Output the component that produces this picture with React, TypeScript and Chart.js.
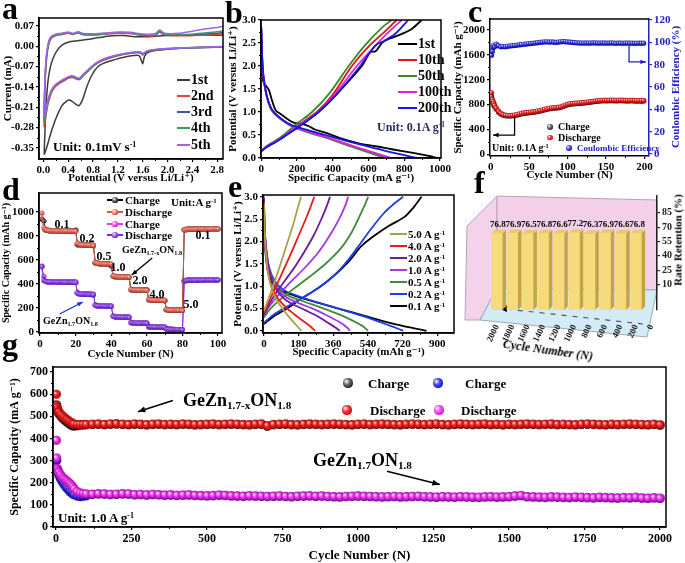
import React, { useEffect, useRef } from 'react';
import { Chart, registerables } from 'chart.js';

Chart.register(...registerables);

const SERIF = "'Liberation Serif', 'Times New Roman', 'DejaVu Serif', serif";
Chart.defaults.font.family = SERIF;
Chart.defaults.color = '#000';

/* ================= a: CV curves ================= */
const aPotentialTicks = [0, 0.4, 0.8, 1.2, 1.6, 2.0, 2.4, 2.8];
const aPotentialMinor = [0.2, 0.6, 1.0, 1.4, 1.8, 2.2, 2.6];
const aCurrentTicks = [-0.35, -0.28, -0.21, -0.14, -0.07, 0, 0.07];
const aCurrentMinor = [-0.315, -0.245, -0.175, -0.105, -0.035, 0.035];
const cvLabels = ['1st', '2nd', '3rd', '4th', '5th'];
const cvColors = ['#3c3c3c', '#e8403a', '#3b5a9a', '#3c9a5c', '#a462ea'];
const cv1st = [[2.95,0.0],[2.6,-0.003],[2.3,-0.006],[2.0,-0.01],[1.8,-0.015],[1.68,-0.022],[1.63,-0.035],[1.6,-0.06],[1.58,-0.05],[1.54,-0.032],[1.45,-0.032],[1.3,-0.038],[1.15,-0.046],[1.0,-0.056],[0.88,-0.07],[0.78,-0.1],[0.7,-0.14],[0.63,-0.185],[0.57,-0.205],[0.5,-0.196],[0.43,-0.186],[0.37,-0.19],[0.3,-0.205],[0.22,-0.24],[0.15,-0.28],[0.1,-0.315],[0.06,-0.345],[0.03,-0.365],[0.015,-0.372],
  [0.025,-0.3],[0.045,-0.2],[0.07,-0.13],[0.1,-0.085],[0.15,-0.045],[0.22,-0.015],[0.3,0.004],[0.4,0.014],[0.55,0.019],[0.7,0.023],[0.9,0.03],[1.1,0.036],[1.3,0.037],[1.5,0.033],[1.7,0.033],[1.9,0.036],[2.2,0.038],[2.5,0.038],[2.8,0.038],[2.95,0.039]];
const cv2nd = [[2.95,-0.002],[2.6,-0.004],[2.3,-0.006],[2.0,-0.009],[1.8,-0.013],[1.68,-0.018],[1.62,-0.026],[1.6,-0.03],[1.57,-0.024],[1.5,-0.022],[1.35,-0.026],[1.2,-0.033],[1.05,-0.042],[0.92,-0.053],[0.82,-0.066],[0.72,-0.086],[0.64,-0.102],[0.58,-0.115],[0.53,-0.113],[0.47,-0.108],[0.41,-0.11],[0.34,-0.118],[0.26,-0.128],[0.19,-0.14],[0.13,-0.16],[0.08,-0.195],[0.04,-0.24],[0.02,-0.268],[0.012,-0.278],
  [0.018,-0.2],[0.03,-0.12],[0.05,-0.05],[0.08,0.0],[0.12,0.025],[0.2,0.037],[0.3,0.041],[0.4,0.045],[0.48,0.041],[0.56,0.046],[0.64,0.04],[0.8,0.039],[1.0,0.042],[1.2,0.045],[1.4,0.044],[1.6,0.037],[1.8,0.037],[1.87,0.048],[1.95,0.039],[2.2,0.036],[2.5,0.038],[2.8,0.041],[2.95,0.044]];
const cv3rd = [[2.95,-0.002],[2.6,-0.004],[2.3,-0.006],[2.0,-0.009],[1.8,-0.012],[1.68,-0.017],[1.62,-0.025],[1.6,-0.028],[1.57,-0.022],[1.5,-0.021],[1.35,-0.025],[1.2,-0.031],[1.05,-0.04],[0.92,-0.051],[0.82,-0.064],[0.72,-0.084],[0.64,-0.1],[0.58,-0.113],[0.53,-0.11],[0.47,-0.105],[0.41,-0.107],[0.34,-0.115],[0.26,-0.125],[0.19,-0.137],[0.13,-0.155],[0.08,-0.185],[0.04,-0.225],[0.02,-0.245],[0.012,-0.252],
  [0.018,-0.18],[0.03,-0.1],[0.05,-0.035],[0.08,0.008],[0.12,0.03],[0.2,0.04],[0.3,0.043],[0.4,0.047],[0.48,0.043],[0.56,0.048],[0.64,0.042],[0.8,0.041],[1.0,0.044],[1.2,0.047],[1.4,0.046],[1.6,0.039],[1.8,0.039],[1.87,0.052],[1.95,0.041],[2.2,0.038],[2.5,0.041],[2.8,0.045],[2.95,0.049]];
const cv4th = [[2.95,-0.001],[2.6,-0.003],[2.3,-0.005],[2.0,-0.008],[1.8,-0.012],[1.68,-0.016],[1.62,-0.024],[1.6,-0.027],[1.57,-0.021],[1.5,-0.02],[1.35,-0.024],[1.2,-0.03],[1.05,-0.039],[0.92,-0.05],[0.82,-0.063],[0.72,-0.082],[0.64,-0.099],[0.58,-0.112],[0.53,-0.109],[0.47,-0.104],[0.41,-0.106],[0.34,-0.114],[0.26,-0.124],[0.19,-0.136],[0.13,-0.156],[0.08,-0.19],[0.04,-0.235],[0.02,-0.256],[0.012,-0.262],
  [0.018,-0.19],[0.03,-0.105],[0.05,-0.04],[0.08,0.005],[0.12,0.028],[0.2,0.039],[0.3,0.042],[0.4,0.046],[0.48,0.042],[0.56,0.047],[0.64,0.041],[0.8,0.04],[1.0,0.043],[1.2,0.046],[1.4,0.045],[1.6,0.04],[1.8,0.04],[1.87,0.053],[1.95,0.042],[2.2,0.04],[2.5,0.044],[2.8,0.05],[2.95,0.056]];
const cv5th = [[2.95,-0.001],[2.6,-0.003],[2.3,-0.005],[2.0,-0.008],[1.8,-0.011],[1.68,-0.015],[1.62,-0.023],[1.6,-0.026],[1.57,-0.02],[1.5,-0.019],[1.35,-0.023],[1.2,-0.029],[1.05,-0.038],[0.92,-0.049],[0.82,-0.062],[0.72,-0.081],[0.64,-0.097],[0.58,-0.11],[0.53,-0.107],[0.47,-0.102],[0.41,-0.104],[0.34,-0.112],[0.26,-0.122],[0.19,-0.133],[0.13,-0.15],[0.08,-0.18],[0.04,-0.22],[0.02,-0.237],[0.012,-0.243],
  [0.018,-0.17],[0.03,-0.09],[0.05,-0.03],[0.08,0.012],[0.12,0.033],[0.2,0.042],[0.3,0.045],[0.4,0.049],[0.48,0.045],[0.56,0.05],[0.64,0.044],[0.8,0.043],[1.0,0.046],[1.2,0.049],[1.4,0.048],[1.6,0.042],[1.8,0.043],[1.87,0.056],[1.95,0.045],[2.2,0.045],[2.4,0.052],[2.6,0.06],[2.8,0.065],[2.95,0.072]];

/* ================= b: GCD curves at 0.1 A/g ================= */
const bCapacityTicks = [0, 200, 400, 600, 800, 1000];
const bCapacityMinor = [100, 300, 500, 700, 900];
const bPotentialTicks = [0, 0.5, 1.0, 1.5, 2.0, 2.5, 3.0];
const bPotentialMinor = [0.25, 0.75, 1.25, 1.75, 2.25, 2.75];
const bLabels = ['1st', '10th', '50th', '100th', '200th'];
const bColors = ['#000000', '#e01414', '#3a8a2a', '#e020e0', '#1616e8'];
const b1stDis = [[0,1.85],[5,1.75],[15,1.62],[30,1.55],[43,1.47],[60,1.25],[80,1.04],[110,0.95],[173,0.78],[230,0.74],[266,0.69],[300,0.62],[359,0.55],[450,0.42],[545,0.32],[650,0.25],[730,0.19],[850,0.11],[930,0.05],[990,0.0]];
const b1stCh = [[0,0.15],[30,0.24],[80,0.35],[140,0.5],[210,0.68],[320,1.0],[420,1.38],[563,2.0],[610,2.3],[640,2.32],[680,2.52],[720,2.6],[770,2.67],[840,2.8],[898,3.0]];
const b10thDis = [[0,2.75],[4,2.2],[12,1.75],[30,1.35],[55,1.08],[90,0.92],[130,0.8],[173,0.7],[266,0.57],[359,0.46],[450,0.34],[545,0.21],[650,0.09],[722,0.0]];
const b10thCh = [[0,0.15],[30,0.25],[80,0.37],[135,0.5],[200,0.7],[310,1.0],[400,1.38],[507,2.0],[600,2.42],[700,2.78],[758,3.0]];
const b50thDis = [[0,2.8],[4,2.2],[12,1.75],[30,1.33],[55,1.05],[90,0.9],[130,0.78],[173,0.68],[266,0.55],[359,0.44],[450,0.32],[545,0.19],[640,0.07],[702,0.0]];
const b50thCh = [[0,0.15],[30,0.26],[80,0.38],[130,0.52],[200,0.75],[284,1.0],[380,1.4],[489,2.0],[580,2.45],[680,2.85],[730,3.0]];
const b100thDis = [[0,2.8],[4,2.22],[12,1.76],[30,1.34],[55,1.07],[90,0.91],[130,0.79],[173,0.7],[266,0.57],[359,0.46],[450,0.34],[545,0.22],[650,0.09],[725,0.0]];
const b100thCh = [[0,0.15],[30,0.25],[80,0.36],[135,0.5],[200,0.68],[315,1.0],[410,1.38],[535,2.0],[640,2.45],[730,2.8],[786,3.0]];
const b200thDis = [[0,2.85],[4,2.25],[12,1.78],[30,1.36],[55,1.08],[90,0.92],[130,0.8],[173,0.71],[266,0.6],[359,0.5],[450,0.4],[545,0.3],[650,0.2],[730,0.12],[800,0.06],[868,0.0]];
const b200thCh = [[0,0.15],[30,0.24],[80,0.35],[140,0.5],[210,0.68],[320,1.0],[420,1.38],[554,2.0],[640,2.45],[690,2.55],[750,2.7],[823,3.0]];

/* ================= c: cycling at 0.1 A/g ================= */
const cCycleTicks = [0, 50, 100, 150, 200];
const cCycleMinor = [25, 75, 125, 175];
const cCapacityTicks = [0, 400, 800, 1200, 1600, 2000];
const cCapacityMinor = [200, 600, 1000, 1400, 1800];
const cEfficiencyTicks = [0, 20, 40, 60, 80, 100, 120];
const cCycles = [1,2,3,4,5,7,10,13,16,19,22,25,28,31,34,37,40,43,46,49,52,55,58,61,64,67,70,73,76,79,82,85,88,91,94,97,100,103,106,109,112,115,118,121,124,127,130,133,136,139,142,145,148,151,154,157,160,163,166,169,172,175,178,181,184,187,190,193,196,199];
const cDischarge = [990,885,850,815,785,
  745,695,662,642,630,625,624,627,632,640,
  650,660,667,672,675,680,684,690,697,705,
  714,724,734,741,747,751,754,757,764,778,
  793,806,814,818,822,825,828,831,834,838,
  843,848,853,858,863,866,869,870,868,870,
  872,870,868,870,872,870,868,866,868,870,
  866,864,866,864,866];
const cCharge = [930,850,822,795,770,
  728,680,650,632,622,618,617,620,625,632,
  642,652,659,664,667,672,676,682,689,697,
  706,716,726,733,739,743,746,749,756,770,
  785,798,806,810,814,817,820,823,826,830,
  835,840,845,850,855,858,861,862,860,862,
  864,862,860,862,864,862,860,858,860,862,
  858,856,858,856,858];
const cEfficiency = [88.5,92,95.5,97.5,96,
  98.5,97,96,96.3,96,96.5,96.8,97,97.2,97.5,
  97.8,98,98.3,98.5,98.8,99,99.2,99.5,99.7,100,
  100.2,100.4,100.5,100.3,100.4,100.2,100,100.3,100.5,100.8,
  100.6,100.4,100.2,100,99.8,99.6,99.5,99.4,99.4,99.5,
  99.3,99.4,99.6,99.5,99.4,99.3,99.5,99.4,99.3,99.4,
  99.5,99.3,99.2,99.4,99.3,99.2,99.3,99.4,99.2,99.3,
  99.1,99.2,99.3,99.2,99.3];

/* ================= d: rate performance ================= */
const dCycleTicks = [0, 20, 40, 60, 80, 100];
const dCycleMinor = [10, 30, 50, 70, 90];
const dCapacityTicks = [0, 200, 400, 600, 800, 1000];
const dCapacityMinor = [100, 300, 500, 700, 900];
const dCycles = [1,2,3,4,5,6,7,8,9,10,11,12,13,14,15,16,17,18,19,20,21,22,23,24,25,26,27,28,29,30,31,32,33,34,35,36,37,38,39,40,41,42,43,44,45,46,47,48,49,50,51,52,53,54,55,56,57,58,59,60,61,62,63,64,65,66,67,68,69,70,71,72,73,74,75,76,77,78,79,80,81,82,83,84,85,86,87,88,89,90,91,92,93,94,95,96,97,98,99,100];
const dRateLabels = ['0.1', '0.2', '0.5', '1.0', '2.0', '4.0', '5.0', '0.1'];
const dChargeA = [940,925,850,846,845,844,843,843,842,842,841,841,841,840,840,840,839,839,839,850,
  728,727,725,724,724,723,723,722,722,720,
  575,571,570,569,568,567,567,566,566,550,
  465,462,461,460,459,459,458,458,457,455,
  352,350,349,349,348,348,347,347,347,352,
  269,266,265,265,264,264,263,263,263,262,
  185,183,182,181,181,181,180,180,180,180,
  852,854,855,855,856,856,856,857,857,857,857,858,858,858,858,859,859,859,859,859];
const dDischargeA = [990,872,852,848,846,845,844,844,843,843,842,842,842,841,841,841,840,840,840,840,
  738,730,727,726,725,724,724,723,723,722,
  580,573,571,570,569,568,568,567,567,566,
  468,464,462,461,460,460,459,459,458,458,
  355,352,351,350,350,349,349,348,348,348,
  272,268,267,266,266,265,265,264,264,264,
  188,184,183,183,182,182,182,181,181,181,
  850,855,856,856,857,857,857,858,858,858,858,859,859,859,859,860,860,860,860,860];
const dChargeB = [550,465,425,420,418,418,417,417,416,416,416,415,415,415,415,414,414,414,414,414,
  330,318,316,315,315,314,314,314,313,313,
  228,220,218,218,217,217,216,216,216,215,
  135,128,126,125,125,124,124,124,123,123,
  80,76,75,74,74,74,73,73,73,73,
  46,43,42,42,41,41,41,41,40,40,
  25,23,22,22,22,21,21,21,21,21,
  428,430,431,431,432,432,432,432,433,433,433,433,433,434,434,434,434,434,434,434];
const dDischargeB = [545,430,422,419,418,417,417,416,416,416,415,415,415,414,414,414,414,413,413,413,
  322,316,315,314,314,313,313,313,312,312,
  222,218,217,217,216,216,215,215,215,215,
  130,126,125,124,124,123,123,123,122,122,
  78,75,74,74,73,73,73,72,72,72,
  44,42,41,41,41,40,40,40,40,40,
  24,22,22,21,21,21,21,20,20,20,
  425,429,430,430,431,431,431,432,432,432,432,433,433,433,433,433,433,433,434,434];

/* ================= e: GCD at different rates ================= */
const eCapacityTicks = [0, 180, 360, 540, 720, 900];
const eCapacityMinor = [90, 270, 450, 630, 810];
const ePotentialTicks = [0, 0.5, 1.0, 1.5, 2.0, 2.5, 3.0];
const ePotentialMinor = [0.25, 0.75, 1.25, 1.75, 2.25, 2.75];
const eRates = ['5.0', '4.0', '2.0', '1.0', '0.5', '0.2', '0.1'];
const eColors = ['#aaa046', '#e61c1c', '#6a1c9c', '#a236ea', '#3d8b35', '#1d3de6', '#000000'];
const e50Dis = [[0,2.85],[3,2.3],[8,1.85],[18,1.4],[30,1.1],[45,0.88],[65,0.7],[90,0.53],[120,0.36],[150,0.21],[175,0.09],[195,0.0]];
const e50Ch = [[0,0.45],[15,0.62],[35,0.85],[60,1.15],[90,1.55],[120,1.95],[150,2.35],[172,2.7],[192,3.0]];
const e40Dis = [[0,2.9],[3,2.3],[8,1.85],[20,1.35],[35,1.05],[55,0.85],[80,0.68],[120,0.5],[160,0.36],[200,0.23],[240,0.1],[265,0.0]];
const e40Ch = [[0,0.4],[20,0.6],[50,0.88],[90,1.25],[130,1.63],[170,2.03],[210,2.43],[240,2.75],[261,3.0]];
const e20Dis = [[0,2.95],[3,2.35],[10,1.85],[25,1.38],[45,1.08],[70,0.88],[110,0.7],[160,0.57],[220,0.45],[280,0.32],[340,0.16],[375,0.06],[394,0.0]];
const e20Ch = [[0,0.35],[25,0.58],[60,0.83],[110,1.13],[160,1.43],[210,1.77],[260,2.15],[300,2.52],[325,2.78],[343,3.0]];
const e10Dis = [[0,3.0],[3,2.4],[10,1.9],[25,1.42],[45,1.12],[75,0.9],[120,0.74],[180,0.62],[250,0.5],[320,0.36],[390,0.2],[430,0.08],[446,0.0]];
const e10Ch = [[0,0.35],[30,0.56],[80,0.82],[140,1.1],[210,1.4],[280,1.74],[340,2.12],[390,2.5],[420,2.78],[438,3.0]];
const e05Dis = [[0,2.9],[3,2.35],[10,1.88],[25,1.42],[50,1.1],[85,0.9],[140,0.76],[210,0.65],[290,0.53],[370,0.4],[450,0.25],[510,0.11],[541,0.0]];
const e05Ch = [[0,0.3],[35,0.5],[90,0.72],[160,0.96],[240,1.22],[320,1.5],[400,1.85],[455,2.2],[495,2.55],[522,2.8],[541,3.0]];
const e02Dis = [[0,3.0],[3,2.4],[10,1.9],[25,1.45],[55,1.12],[100,0.92],[170,0.79],[260,0.66],[360,0.53],[460,0.4],[560,0.26],[650,0.12],[700,0.04],[723,0.0]];
const e02Ch = [[0,0.18],[50,0.36],[120,0.54],[200,0.74],[290,0.98],[370,1.26],[440,1.6],[500,1.95],[560,2.3],[620,2.62],[680,2.86],[723,3.0]];
const e01Dis = [[0,2.6],[3,2.1],[10,1.65],[25,1.25],[55,1.0],[100,0.88],[170,0.77],[260,0.65],[360,0.53],[460,0.41],[560,0.29],[660,0.17],[750,0.08],[810,0.03],[844,0.0]];
const e01Ch = [[0,0.15],[50,0.32],[120,0.5],[195,0.72],[280,0.95],[360,1.22],[440,1.55],[507,1.9],[580,2.15],[650,2.35],[730,2.55],[775,2.75],[818,3.0]];

/* ================= f: rate retention (3D bars) ================= */
const fCycles = [2000, 1800, 1600, 1400, 1200, 1000, 800, 600, 400, 200];
const fRetention = [76.8, 76.9, 76.5, 76.8, 76.6, 77.2, 76.3, 76.9, 76.6, 76.8];
const fCycleTicks = [2000, 1800, 1600, 1400, 1200, 1000, 800, 600, 400, 200, 0];
const fRetentionTicks = [10, 25, 40, 55, 70, 85];

/* ================= g: long cycling at 1.0 A/g ================= */
const gCycleTicks = [0, 250, 500, 750, 1000, 1250, 1500, 1750, 2000];
const gCycleMinor = [125, 375, 625, 875, 1125, 1375, 1625, 1875];
const gCapacityTicks = [0, 100, 200, 300, 400, 500, 600, 700];
const gCapacityMinor = [50, 150, 250, 350, 450, 550, 650];
const gCycles = [1,2,3,5,8,10,15,20,25,30,35,40,45,50,55,60,70,80,90,100,
  120,140,160,180,200,220,240,260,280,300,320,340,360,380,400,420,440,460,480,500,
  520,540,560,580,600,620,640,660,680,700,720,740,760,780,800,820,840,860,880,900,
  920,940,960,980,1000,1020,1040,1060,1080,1100,1120,1140,1160,1180,1200,1220,1240,1260,1280,1300,
  1320,1340,1360,1380,1400,1420,1440,1460,1480,1500,1520,1540,1560,1580,1600,1620,1640,1660,1680,1700,
  1720,1740,1760,1780,1800,1820,1840,1860,1880,1900,1920,1940,1960,1980,2000];
const gDischargeA = [600,548,540,530,522,518,510,503,497,491,486,481,476,471,468,465,463,463,464,464,
  465,466,464,466,467,465,464,466,465,463,
  465,466,464,465,464,466,465,463,464,465,
  466,464,465,466,465,464,463,465,466,458,
  464,465,466,464,463,465,466,465,464,465,
  466,465,464,463,465,466,464,465,466,465,
  464,463,465,466,465,464,465,466,464,463,
  465,466,465,464,465,466,464,465,463,465,
  464,465,466,465,464,465,466,464,465,464,
  463,465,466,465,464,463,465,464,465,466,
  465,464,463,465,462];
const gChargeA = [552,540,534,525,516,512,503,495,488,482,476,471,466,461,458,456,458,460,461,462,
  463,464,462,464,465,463,462,464,463,461,
  463,464,462,463,462,464,463,461,462,463,
  464,462,463,464,463,462,461,463,464,455,
  462,463,464,462,461,463,464,463,462,463,
  464,463,462,461,463,464,462,463,464,463,
  462,461,463,464,463,462,463,464,462,461,
  463,464,463,462,463,464,462,463,461,463,
  462,463,464,463,462,463,464,462,463,462,
  461,463,464,463,462,461,463,462,463,464,
  463,462,461,463,460];
const gDischargeB = [392,312,265,258,250,245,235,226,220,214,208,203,197,190,182,172,160,154,151,150,
  149,151,150,148,149,151,150,147,148,146,
  148,147,145,146,144,145,146,144,143,142,
  143,145,144,142,141,140,142,141,140,139,
  140,141,139,138,140,141,142,140,141,139,
  138,137,139,140,141,140,139,138,137,138,
  139,137,138,139,140,138,137,136,138,137,
  136,138,137,136,135,137,138,136,137,138,
  141,143,138,137,136,135,137,136,135,134,
  136,135,134,133,135,134,133,132,134,133,
  135,132,131,133,131];
const gChargeB = [305,300,262,252,242,232,218,206,196,186,178,170,162,156,150,146,140,137,139,141,
  147,149,148,146,147,149,148,145,146,144,
  146,145,143,144,142,143,144,142,141,140,
  141,143,142,140,139,138,140,139,138,137,
  138,139,137,136,138,139,140,138,139,137,
  136,135,137,138,139,138,137,136,135,136,
  137,135,136,137,138,136,135,134,136,135,
  134,136,135,134,133,135,136,134,135,136,
  139,141,136,135,134,133,135,134,133,132,
  134,133,132,131,133,132,131,130,132,131,
  133,130,129,131,129];

/* ================= helpers ================= */
function geom(L: number, T: number, R: number, B: number, o: any) {
  const l = o.l || 0, r = o.r || 0, t = o.t || 0, b = o.b || 0, ryw = o.ryw || 0;
  return {
    x: L - o.yw - l, y: T - t,
    w: (R - L) + o.yw + l + ryw + r, h: (B - T) + t + o.xh + b,
    padding: { left: l, top: t, right: r, bottom: b },
    yw: o.yw, xh: o.xh, ryw,
  };
}

const GA = geom(39, 18, 223, 159, { yw: 37, xh: 26, t: 10, r: 8 });
const GB = geom(261, 20, 441, 158, { yw: 34, xh: 27, t: 12, r: 14 });
const GC = geom(490, 19, 649, 156, { yw: 38, xh: 26, t: 12, r: 14, ryw: 22 });
const GD = geom(39, 193, 222, 333, { yw: 39, xh: 28, t: 10, r: 8 });
const GE = geom(263, 195, 454, 333, { yw: 31, xh: 26, t: 10, r: 4 });
const GF = geom(490, 195, 657, 310, { yw: 0, xh: 53, t: 7, r: 8, ryw: 20, l: 35 });
const GG = geom(53, 367, 666, 527, { yw: 45, xh: 36, t: 10, r: 10 });

function axis(o: any) {
  const col = o.color || '#000';
  return {
    type: 'linear',
    position: o.position,
    min: o.min, max: o.max, bounds: 'data', reverse: !!o.reverse,
    afterBuildTicks: (s: any) => { s.ticks = o.ticks.map((v: number) => ({ value: v })); },
    afterFit: (s: any) => {
      if (o.w !== undefined) s.width = o.w;
      if (o.h !== undefined) s.height = o.h;
    },
    ticks: {
      autoSkip: false, maxRotation: 0, minRotation: 0, padding: o.pad === undefined ? 2 : o.pad,
      color: col, font: { family: SERIF, size: o.size || 11, weight: 'bold' },
      callback: (v: any) => o.fmt(Number(v)),
    },
    grid: { display: true, drawOnChartArea: false, drawTicks: true, tickLength: 3, color: col, lineWidth: 1.2 },
    border: { display: true, color: col, width: 1.5 },
    title: o.title
      ? { display: true, text: o.title, color: col, padding: 0, font: { family: SERIF, size: o.tsize || 11, weight: 'bold' } }
      : { display: false },
  };
}

function baseOptions(g: any, scales: any, plugins: any) {
  return {
    responsive: false, animation: false, events: [],
    layout: { padding: g.padding },
    scales,
    plugins: { legend: { display: false }, tooltip: { enabled: false }, ...plugins },
  };
}

const toXY = (pts: number[][]) => pts.map((p) => ({ x: p[0], y: p[1] }));
const zipXY = (xs: number[], ys: number[]) => xs.map((x, i) => ({ x, y: ys[i] }));

function lineSet(pts: number[][], color: string, width: number) {
  return { data: toXY(pts), showLine: true, borderColor: color, borderWidth: width, pointRadius: 0, tension: 0.3, fill: false };
}

function ball(color: string, dark: string, r: number) {
  const s = Math.ceil(2 * r + 1);
  const c = document.createElement('canvas');
  c.width = s; c.height = s;
  const g = c.getContext('2d') as CanvasRenderingContext2D;
  const cx = s / 2, cy = s / 2;
  const gr = g.createRadialGradient(cx - r * 0.35, cy - r * 0.35, r * 0.05, cx, cy, r);
  gr.addColorStop(0, '#ffffff');
  gr.addColorStop(0.35, color);
  gr.addColorStop(1, dark);
  g.fillStyle = gr;
  g.beginPath(); g.arc(cx, cy, r, 0, Math.PI * 2); g.fill();
  return c;
}

const framePlugin = {
  id: 'frame',
  afterDatasetsDraw(chart: any, _a: any, opts: any) {
    if (!opts || !opts.sides) return;
    const { ctx, chartArea: a } = chart;
    ctx.save();
    ctx.strokeStyle = opts.color || '#000';
    ctx.lineWidth = opts.width || 1.5;
    ctx.beginPath();
    if (opts.sides === 'all') ctx.rect(a.left, a.top, a.right - a.left, a.bottom - a.top);
    else { ctx.moveTo(a.left, a.top); ctx.lineTo(a.right, a.top); }
    ctx.stroke();
    ctx.restore();
  },
};

const minorPlugin = {
  id: 'minor',
  afterDatasetsDraw(chart: any, _a: any, opts: any) {
    const { ctx, chartArea: a } = chart;
    ctx.save();
    ctx.strokeStyle = '#000'; ctx.lineWidth = 1;
    ((opts && opts.x) || []).forEach((v: number) => {
      const px = Math.round(chart.scales.x.getPixelForValue(v)) + 0.5;
      ctx.beginPath(); ctx.moveTo(px, a.bottom); ctx.lineTo(px, a.bottom + 2); ctx.stroke();
    });
    ((opts && opts.y) || []).forEach((v: number) => {
      const py = Math.round(chart.scales.y.getPixelForValue(v)) + 0.5;
      ctx.beginPath(); ctx.moveTo(a.left - 2, py); ctx.lineTo(a.left, py); ctx.stroke();
    });
    ctx.restore();
  },
};

const arrowPlugin = {
  id: 'arrows',
  afterDatasetsDraw(chart: any, _a: any, opts: any) {
    const items = (opts && opts.items) || [];
    const ctx = chart.ctx;
    items.forEach((it: any) => {
      const xs = chart.scales[it.xAxis || 'x'];
      const ys = chart.scales[it.yAxis || 'y'];
      const pts = it.pts.map((p: number[]) => [xs.getPixelForValue(p[0]), ys.getPixelForValue(p[1])]);
      ctx.save();
      ctx.strokeStyle = it.color; ctx.fillStyle = it.color; ctx.lineWidth = it.width || 1.5;
      ctx.beginPath();
      pts.forEach((p: number[], i: number) => (i ? ctx.lineTo(p[0], p[1]) : ctx.moveTo(p[0], p[1])));
      ctx.stroke();
      const [x1, y1] = pts[pts.length - 2];
      const [x2, y2] = pts[pts.length - 1];
      const ang = Math.atan2(y2 - y1, x2 - x1);
      const h = it.head || 7;
      ctx.beginPath();
      ctx.moveTo(x2, y2);
      ctx.lineTo(x2 - h * Math.cos(ang - 0.38), y2 - h * Math.sin(ang - 0.38));
      ctx.lineTo(x2 - h * Math.cos(ang + 0.38), y2 - h * Math.sin(ang + 0.38));
      ctx.closePath(); ctx.fill();
      ctx.restore();
    });
  },
};

const roomPlugin = {
  id: 'room',
  beforeDraw(chart: any) {
    const { ctx, chartArea: a } = chart;
    const L = a.left, T = a.top, R = a.right, B = a.bottom;
    const poly = (pts: number[][], fill: string, stroke: string) => {
      ctx.beginPath();
      pts.forEach((p, i) => (i ? ctx.lineTo(p[0], p[1]) : ctx.moveTo(p[0], p[1])));
      ctx.closePath();
      ctx.fillStyle = fill; ctx.fill();
      ctx.strokeStyle = stroke; ctx.lineWidth = 1; ctx.stroke();
    };
    ctx.save();
    poly([[L + 7, T], [L - 23, T + 30], [L - 25, B + 10], [L - 10, B + 10], [L + 7, B - 22]], '#f4d2ea', '#b9a3b3');
    poly([[L + 7, T], [R, T + 4], [R, B - 20], [L + 7, B - 22]], '#f4d0e8', '#b9a3b3');
    poly([[L + 7, B - 22], [R, B - 20], [R - 10, B + 27], [L - 10, B + 10]], '#d4ecf7', '#9aaab4');
    ctx.setLineDash([5, 6]);
    ctx.strokeStyle = '#555'; ctx.lineWidth = 1.2;
    ctx.beginPath(); ctx.moveTo(R - 14, B + 14); ctx.lineTo(L + 16, B - 1); ctx.stroke();
    ctx.setLineDash([]);
    ctx.fillStyle = '#000';
    ctx.beginPath(); ctx.moveTo(L + 9, B - 1.5); ctx.lineTo(L + 17, B - 5); ctx.lineTo(L + 17, B + 2); ctx.closePath(); ctx.fill();
    ctx.restore();
  },
  afterDatasetsDraw(chart: any) {
    const { ctx } = chart;
    const meta = chart.getDatasetMeta(0);
    const vals = chart.data.datasets[0].data;
    ctx.save();
    meta.data.forEach((el: any, i: number) => {
      const { x, y, base, width } = el.getProps(['x', 'y', 'base', 'width'], true);
      const d = 3.5, hw = width / 2;
      ctx.fillStyle = '#c3a449';
      ctx.beginPath(); ctx.moveTo(x + hw, y); ctx.lineTo(x + hw + d, y - d); ctx.lineTo(x + hw + d, base - d); ctx.lineTo(x + hw, base); ctx.closePath(); ctx.fill();
      ctx.fillStyle = '#e6cb6b';
      ctx.beginPath(); ctx.moveTo(x - hw, y); ctx.lineTo(x - hw + d, y - d); ctx.lineTo(x + hw + d, y - d); ctx.lineTo(x + hw, y); ctx.closePath(); ctx.fill();
      ctx.fillStyle = '#000';
      ctx.font = `bold 9px ${SERIF}`;
      ctx.textAlign = 'center'; ctx.textBaseline = 'alphabetic';
      ctx.fillText(Number(vals[i].y).toFixed(1), x + 1, y - d - 3);
    });
    ctx.restore();
  },
};

/* ================= chart configs ================= */
const makeA = () => ({
  type: 'scatter',
  data: {
    datasets: [
      lineSet(cv5th, cvColors[4], 1.5), lineSet(cv4th, cvColors[3], 1.5), lineSet(cv3rd, cvColors[2], 1.5),
      lineSet(cv2nd, cvColors[1], 1.5), lineSet(cv1st, cvColors[0], 1.5),
    ],
  },
  options: baseOptions(GA, {
    x: axis({ min: -0.07, max: 2.893, ticks: aPotentialTicks, fmt: (v: number) => v.toFixed(1), title: 'Potential (V versus Li/Li\u207A)', h: GA.xh }),
    y: axis({ min: -0.389, max: 0.0976, ticks: aCurrentTicks, fmt: (v: number) => v.toFixed(2), title: 'Current (mA)', w: GA.yw }),
  }, { frame: { sides: 'all' }, minor: { x: aPotentialMinor, y: aCurrentMinor } }),
  plugins: [framePlugin, minorPlugin],
});

const makeB = () => ({
  type: 'scatter',
  data: {
    datasets: [
      lineSet(b200thDis, bColors[4], 1.8), lineSet(b200thCh, bColors[4], 1.8),
      lineSet(b100thDis, bColors[3], 1.8), lineSet(b100thCh, bColors[3], 1.8),
      lineSet(b50thDis, bColors[2], 1.8), lineSet(b50thCh, bColors[2], 1.8),
      lineSet(b10thDis, bColors[1], 1.8), lineSet(b10thCh, bColors[1], 1.8),
      lineSet(b1stDis, bColors[0], 1.8), lineSet(b1stCh, bColors[0], 1.8),
    ],
  },
  options: baseOptions(GB, {
    x: axis({ min: -2, max: 1006, ticks: bCapacityTicks, fmt: (v: number) => String(v), title: 'Specific Capacity (mA g\u207B\u00B9)', h: GB.xh }),
    y: axis({ min: 0, max: 3, ticks: bPotentialTicks, fmt: (v: number) => v.toFixed(1), title: 'Potential (V versus Li/Li\u207A)', w: GB.yw }),
  }, { frame: { sides: 'all' }, minor: { x: bCapacityMinor, y: bPotentialMinor } }),
  plugins: [framePlugin, minorPlugin],
});

const makeC = () => {
  const bk = ball('#6a6a6a', '#000000', 2.6);
  const rd = ball('#ff3030', '#a00000', 2.6);
  const bl = ball('#4848ff', '#00008c', 2.6);
  return {
    type: 'scatter',
    data: {
      datasets: [
        { data: zipXY(cCycles, cEfficiency), yAxisID: 'y1', pointStyle: bl, pointRadius: 2.6 },
        { data: zipXY(cCycles, cDischarge), yAxisID: 'y', pointStyle: rd, pointRadius: 2.6 },
        { data: zipXY(cCycles, cCharge), yAxisID: 'y', pointStyle: bk, pointRadius: 2.6 },
      ],
    },
    options: baseOptions(GC, {
      x: axis({ min: -1, max: 206, ticks: cCycleTicks, fmt: (v: number) => String(v), title: 'Cycle Number (N)', h: GC.xh }),
      y: axis({ min: -27, max: 2177, ticks: cCapacityTicks, fmt: (v: number) => String(v), title: 'Specific Capacity (mAh g\u207B\u00B9)', w: GC.yw }),
      y1: axis({ position: 'right', min: -1.8, max: 120.9, ticks: cEfficiencyTicks, fmt: (v: number) => String(v), w: GC.ryw, color: '#2020c4' }),
    }, {
      frame: { sides: 'top' },
      minor: { x: cCycleMinor, y: cCapacityMinor },
      arrows: {
        items: [
          { pts: [[31, 600], [31, 310], [3, 310]], color: '#000', width: 1.3, head: 6 },
          { pts: [[180, 97], [180, 82.5], [202, 82.5]], yAxis: 'y1', color: '#2020c4', width: 1.3, head: 6 },
        ],
      },
    }),
    plugins: [framePlugin, minorPlugin, arrowPlugin],
  };
};

const makeD = () => {
  const bk = ball('#6a6a6a', '#000000', 2.5);
  const sa = ball('#f58a7a', '#b83020', 2.5);
  const mg = ball('#ff60ff', '#a000a0', 2.5);
  const pu = ball('#a060ff', '#4a10a0', 2.5);
  const ds = (ys: number[], color: string, img: any) => ({
    data: zipXY(dCycles, ys), showLine: true, borderColor: color, borderWidth: 1, pointStyle: img, pointRadius: 2.5, tension: 0,
  });
  return {
    type: 'scatter',
    data: {
      datasets: [
        ds(dDischargeA, '#d85a48', sa), ds(dChargeA, '#000000', bk),
        ds(dDischargeB, '#7a30d8', pu), ds(dChargeB, '#e040e0', mg),
      ],
    },
    options: baseOptions(GD, {
      x: axis({ min: -0.6, max: 102.2, ticks: dCycleTicks, fmt: (v: number) => String(v), title: 'Cycle Number (N)', h: GD.xh }),
      y: axis({ min: -8, max: 1158, ticks: dCapacityTicks, fmt: (v: number) => String(v), title: 'Specific Capacity (mAh g\u207B\u00B9)', w: GD.yw, tsize: 10 }),
    }, {
      frame: { sides: 'all' },
      minor: { x: dCycleMinor, y: dCapacityMinor },
      arrows: {
        items: [
          { pts: [[63, 617], [51.5, 475]], color: '#000', width: 1.3, head: 6 },
          { pts: [[11, 150], [24, 250]], color: '#1a2fd0', width: 1.3, head: 6 },
        ],
      },
    }),
    plugins: [framePlugin, minorPlugin, arrowPlugin],
  };
};

const makeE = () => {
  const pairs = [[e50Dis, e50Ch], [e40Dis, e40Ch], [e20Dis, e20Ch], [e10Dis, e10Ch], [e05Dis, e05Ch], [e02Dis, e02Ch], [e01Dis, e01Ch]];
  const datasets: any[] = [];
  pairs.forEach((p, i) => { datasets.push(lineSet(p[0], eColors[i], 1.8)); datasets.push(lineSet(p[1], eColors[i], 1.8)); });
  return {
    type: 'scatter',
    data: { datasets },
    options: baseOptions(GE, {
      x: axis({ min: -5, max: 987, ticks: eCapacityTicks, fmt: (v: number) => String(v), title: 'Specific Capacity (mAh g\u207B\u00B9)', h: GE.xh }),
      y: axis({ min: -0.05, max: 3.04, ticks: ePotentialTicks, fmt: (v: number) => v.toFixed(1), title: 'Potential (V versus Li/Li\u207A)', w: GE.yw }),
    }, { frame: { sides: 'all' }, minor: { x: eCapacityMinor, y: ePotentialMinor } }),
    plugins: [framePlugin, minorPlugin],
  };
};

const makeF = () => ({
  type: 'bar',
  data: {
    datasets: [{
      data: zipXY(fCycles, fRetention), backgroundColor: '#f6db7c', borderWidth: 0, barThickness: 11, xAxisID: 'x', yAxisID: 'y',
    }],
  },
  options: baseOptions(GF, {
    x: {
      type: 'linear', min: -70, max: 2090, reverse: true, offset: false, bounds: 'data',
      afterBuildTicks: (s: any) => { s.ticks = fCycleTicks.map((v) => ({ value: v })); },
      afterFit: (s: any) => { s.height = GF.xh; },
      ticks: { autoSkip: false, minRotation: 65, maxRotation: 65, padding: 5, color: '#222', font: { family: SERIF, size: 9, weight: 'bold' }, callback: (v: any) => String(v) },
      grid: { display: false }, border: { display: false },
    },
    y: { type: 'linear', display: false, min: 0, max: 114 },
    y2: axis({ position: 'right', min: -16.6, max: 102.6, ticks: fRetentionTicks, fmt: (v: number) => String(v), w: GF.ryw, size: 10, color: '#222' }),
  }, {}),
  plugins: [roomPlugin],
});

const makeG = () => {
  const bk = ball('#6a6a6a', '#000000', 4.6);
  const rd = ball('#ff3030', '#a00000', 4.6);
  const bl = ball('#4848ff', '#00008c', 4.6);
  const mg = ball('#ff50ff', '#a000a0', 4.6);
  return {
    type: 'scatter',
    data: {
      datasets: [
        { data: zipXY(gCycles, gDischargeA), pointStyle: rd, pointRadius: 4.6 },
        { data: zipXY(gCycles, gChargeA), pointStyle: bk, pointRadius: 4.6 },
        { data: zipXY(gCycles, gDischargeB), pointStyle: mg, pointRadius: 4.6 },
        { data: zipXY(gCycles, gChargeB), pointStyle: bl, pointRadius: 4.6 },
      ],
    },
    options: baseOptions(GG, {
      x: axis({ min: -10, max: 2020, ticks: gCycleTicks, fmt: (v: number) => String(v), title: 'Cycle Number (N)', h: GG.xh, size: 12, tsize: 13 }),
      y: axis({ min: 0, max: 723, ticks: gCapacityTicks, fmt: (v: number) => String(v), title: 'Specific Capacity (mA g\u207B\u00B9)', w: GG.yw, size: 12, tsize: 12 }),
    }, {
      frame: { sides: 'all' },
      minor: { x: gCycleMinor, y: gCapacityMinor },
      arrows: {
        items: [
          { pts: [[387, 572], [271, 521]], color: '#000', width: 1.5, head: 8 },
          { pts: [[1096, 252], [1271, 192]], color: '#000', width: 1.5, head: 8 },
        ],
      },
    }),
    plugins: [framePlugin, minorPlugin, arrowPlugin],
  };
};

/* ================= React components ================= */
function ChartCanvas({ g, make }: any) {
  const ref = useRef<HTMLCanvasElement>(null);
  useEffect(() => {
    const chart = new Chart(ref.current as HTMLCanvasElement, make());
    return () => chart.destroy();
  }, []);
  return (
    <canvas ref={ref} width={g.w} height={g.h}
      style={{ position: 'absolute', left: g.x, top: g.y, width: g.w, height: g.h }} />
  );
}

const Sup = ({ children }: any) => <span style={{ fontSize: '0.62em', verticalAlign: '0.5em', lineHeight: 0 }}>{children}</span>;
const Sub = ({ children }: any) => <span style={{ fontSize: '0.62em', verticalAlign: '-0.3em', lineHeight: 0 }}>{children}</span>;

function Txt({ x, y, size, color = '#000', children, align = 'left', italic = false }: any) {
  return (
    <div style={{
      position: 'absolute', left: x, top: y - size / 2, fontSize: size, lineHeight: `${size}px`,
      fontWeight: 'bold', fontStyle: italic ? 'italic' : 'normal', color, whiteSpace: 'nowrap', fontFamily: SERIF,
      transform: align === 'center' ? 'translateX(-50%)' : undefined,
    }}>{children}</div>
  );
}

function RotTxt({ x, y, size, color = '#000', angle, italic = false, children }: any) {
  return (
    <div style={{
      position: 'absolute', left: x, top: y, fontSize: size, lineHeight: `${size}px`, fontWeight: 'bold',
      fontStyle: italic ? 'italic' : 'normal', color, whiteSpace: 'nowrap', fontFamily: SERIF,
      transform: `translate(-50%, -50%) rotate(${angle}deg)`,
    }}>{children}</div>
  );
}

function Letter({ x, base, ch }: any) {
  return (
    <div style={{ position: 'absolute', left: x, top: base - 27, fontSize: 32, lineHeight: '32px', fontWeight: 'bold', fontFamily: SERIF, color: '#000' }}>{ch}</div>
  );
}

function LineKey({ x1, x2, y, color, lw = 2.5 }: any) {
  return <div style={{ position: 'absolute', left: x1, top: y - lw / 2, width: x2 - x1, height: lw, background: color }} />;
}

function Ball({ x, y, r, color, dark }: any) {
  return (
    <div style={{
      position: 'absolute', left: x - r, top: y - r, width: 2 * r, height: 2 * r, borderRadius: '50%',
      background: `radial-gradient(circle at 35% 35%, #ffffff 0%, ${color} 35%, ${dark} 100%)`,
    }} />
  );
}

const aRows = [80, 96, 112, 128, 145];
const bRows = [44, 60, 76, 92, 108];
const dRows = [200, 212, 224, 235];
const eRows = [234, 246, 258, 270, 282, 294, 306];
const dKeys = [['Charge', '#000000', '#6a6a6a', '#000'], ['Discharge', '#d85a48', '#f58a7a', '#b83020'], ['Charge', '#e040e0', '#ff60ff', '#a000a0'], ['Discharge', '#7a30d8', '#a060ff', '#4a10a0']];
const dRateX = [62, 87, 104, 118, 140, 157, 191, 203];
const dRateY = [224, 238, 256, 267, 280, 294, 304, 235];

export default function App() {
  return (
    <div style={{ position: 'absolute', left: 0, top: 0, width: 685, height: 563, background: '#fff', overflow: 'hidden', fontFamily: SERIF }}>
      <ChartCanvas g={GA} make={makeA} />
      <ChartCanvas g={GB} make={makeB} />
      <ChartCanvas g={GC} make={makeC} />
      <ChartCanvas g={GD} make={makeD} />
      <ChartCanvas g={GE} make={makeE} />
      <ChartCanvas g={GF} make={makeF} />
      <ChartCanvas g={GG} make={makeG} />

      <Letter x={2} base={19} ch="a" />
      <Letter x={225} base={23} ch="b" />
      <Letter x={468} base={22} ch="c" />
      <Letter x={2} base={200} ch="d" />
      <Letter x={228} base={197} ch="e" />
      <Letter x={474} base={193} ch="f" />
      <Letter x={2} base={355} ch="g" />

      {/* a legend */}
      {cvLabels.map((l, i) => (
        <React.Fragment key={'a' + l}>
          <LineKey x1={177} x2={190} y={aRows[i]} color={cvColors[i]} lw={2.5} />
          <Txt x={191} y={aRows[i]} size={14}>{l}</Txt>
        </React.Fragment>
      ))}
      <Txt x={53} y={146} size={13}>Unit: 0.1mV s<Sup>-1</Sup></Txt>

      {/* b legend */}
      {bLabels.map((l, i) => (
        <React.Fragment key={'b' + l}>
          <LineKey x1={398} x2={417} y={bRows[i]} color={bColors[i]} lw={2.5} />
          <Txt x={418} y={bRows[i]} size={14}>{l}</Txt>
        </React.Fragment>
      ))}
      <Txt x={377} y={127} size={12} color="#1e2b5e">Unit: 0.1A g<Sup>-1</Sup></Txt>

      {/* c legend */}
      <Ball x={550} y={127} r={2.8} color="#6a6a6a" dark="#000" />
      <Txt x={558} y={127} size={10}>Charge</Txt>
      <Ball x={550} y={137.5} r={2.8} color="#ff3030" dark="#a00000" />
      <Txt x={558} y={137.5} size={10}>Discharge</Txt>
      <Ball x={569} y={148} r={2.8} color="#4848ff" dark="#00008c" />
      <Txt x={577} y={148} size={9} color="#2020c4">Coulombic Efficiency</Txt>
      <Txt x={492} y={148} size={10}>Unit: 0.1A g<Sup>-1</Sup></Txt>
      <RotTxt x={675} y={87} size={11} angle={-90} color="#2020c4">Coulombic Efficiency (%)</RotTxt>

      {/* d legend + labels */}
      {dKeys.map((k, i) => (
        <React.Fragment key={'d' + i}>
          <LineKey x1={107} x2={123} y={dRows[i]} color={k[1]} lw={1.2} />
          <Ball x={115} y={dRows[i]} r={2.6} color={k[2]} dark={k[3]} />
          <Txt x={125} y={dRows[i]} size={11}>{k[0]}</Txt>
        </React.Fragment>
      ))}
      <Txt x={171} y={202} size={11}>Unit:A g<Sup>-1</Sup></Txt>
      {dRateLabels.map((l, i) => (
        <Txt key={'dr' + i} x={dRateX[i]} y={dRateY[i]} size={12} align="center">{l}</Txt>
      ))}
      <Txt x={122} y={250} size={10}>GeZn<Sub>1.7-x</Sub>ON<Sub>1.8</Sub></Txt>
      <Txt x={43} y={321} size={10}>GeZn<Sub>1.7</Sub>ON<Sub>1.8</Sub></Txt>

      {/* e legend */}
      {eRates.map((l, i) => (
        <React.Fragment key={'e' + l}>
          <LineKey x1={390} x2={407} y={eRows[i]} color={eColors[i]} lw={2.5} />
          <Txt x={408} y={eRows[i]} size={11}>{l} A g<Sup>-1</Sup></Txt>
        </React.Fragment>
      ))}

      {/* f titles */}
      <RotTxt x={548} y={350} size={12} angle={8} italic>Cycle Number (N)</RotTxt>
      <RotTxt x={678} y={240} size={11} angle={-90}>Rate Retention (%)</RotTxt>

      {/* g legend + labels */}
      <Ball x={348} y={383} r={4.6} color="#6a6a6a" dark="#000" />
      <Txt x={368} y={383} size={13}>Charge</Txt>
      <Ball x={438} y={383} r={4.6} color="#4848ff" dark="#00008c" />
      <Txt x={465} y={383} size={13}>Charge</Txt>
      <Ball x={347} y={410} r={4.6} color="#ff3030" dark="#a00000" />
      <Txt x={370} y={410} size={13}>Discharge</Txt>
      <Ball x={439} y={410} r={4.6} color="#ff50ff" dark="#a000a0" />
      <Txt x={461} y={410} size={13}>Discharge</Txt>
      <Txt x={183} y={400} size={18}>GeZn<Sub>1.7-x</Sub>ON<Sub>1.8</Sub></Txt>
      <Txt x={313} y={460} size={18}>GeZn<Sub>1.7</Sub>ON<Sub>1.8</Sub></Txt>
      <Txt x={58} y={517} size={13}>Unit: 1.0 A g<Sup>-1</Sup></Txt>
    </div>
  );
}
